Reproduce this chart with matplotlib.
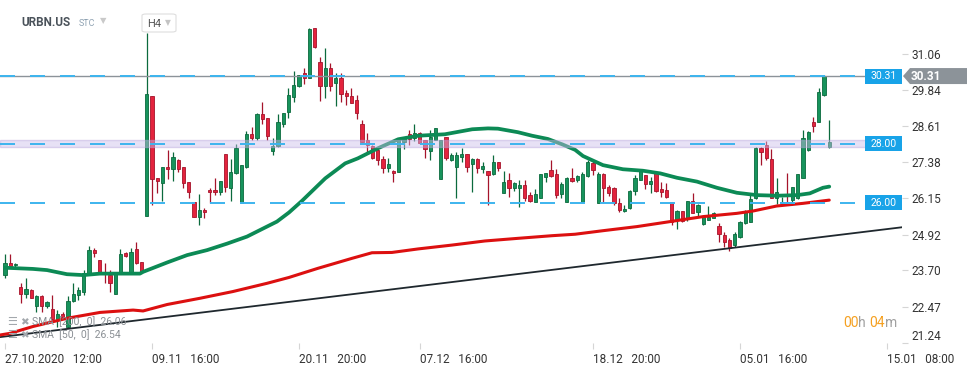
import matplotlib
matplotlib.use("Agg")
import matplotlib.pyplot as plt
import matplotlib.transforms as mtransforms
from matplotlib.patches import Polygon, Rectangle, FancyBboxPatch
import numpy as np

plt.rcParams['font.family'] = ['Roboto', 'DejaVu Sans']
plt.rcParams['lines.scale_dashes'] = False

# ---------------- data (H4 candles, URBN.US) ----------------
opens = [23.54, 23.94, 23.88, 23.12, 22.88, 23.02, 22.49, 22.83, 22.50, 22.37,
         22.05, 22.20, 21.79, 22.66, 22.86, 22.98, 23.57, 24.38, 24.04, 23.63,
         23.54, 22.88, 23.60, 24.29, 23.60, 24.43, 24.00, 25.56, 29.63, 26.85,
         26.66, 27.23, 27.14, 27.45, 27.23, 26.70, 26.01, 25.53, 25.75, 26.43,
         26.43, 26.38, 27.65, 26.51, 27.02, 25.98, 27.23, 28.33, 28.21, 29.01,
         28.87, 27.76, 27.94, 28.67, 29.08, 29.61, 29.97, 30.40, 30.25, 31.93,
         30.78, 29.98, 30.57, 30.09, 30.23, 29.74, 29.63, 29.48, 28.67, 28.13,
         27.94, 27.80, 27.49, 27.19, 27.08, 27.03, 28.06, 28.33, 28.21, 28.36,
         28.13, 27.77, 28.13, 26.80, 28.25, 27.45, 27.23, 27.57, 27.65, 27.31,
         27.49, 27.15, 27.08, 26.97, 27.38, 26.32, 26.77, 26.49, 26.49, 26.60,
         26.26, 26.01, 26.17, 26.89, 27.10, 26.97, 26.29, 26.01, 26.83, 26.77,
         26.01, 26.92, 27.36, 25.98, 26.97, 26.55, 26.51, 25.98, 25.72, 25.81,
         26.40, 26.77, 26.94, 26.64, 27.00, 26.47, 26.43, 26.01, 25.41, 25.72,
         25.44, 26.06, 25.67, 25.27, 25.41, 25.49, 25.21, 24.90, 24.73, 24.56,
         24.85, 25.30, 25.33, 26.15, 27.87, 27.97, 27.49, 26.15, 25.98, 26.04,
         26.09, 26.15, 26.85, 27.80, 28.76, 28.76, 29.67, 27.91]
highs = [24.25, 24.25, 23.96, 23.26, 23.43, 23.05, 22.86, 22.86, 22.66, 22.86,
         22.35, 22.30, 22.83, 23.26, 23.15, 23.71, 24.53, 24.45, 24.04, 23.94,
         23.71, 23.60, 24.43, 24.34, 24.45, 24.67, 24.00, 31.76, 29.63, 26.85,
         27.23, 27.80, 27.74, 27.49, 27.23, 26.70, 26.01, 26.29, 25.83, 26.49,
         26.85, 26.74, 27.65, 27.49, 27.99, 27.28, 28.44, 28.59, 29.04, 29.42,
         28.89, 28.19, 29.01, 29.04, 29.91, 30.48, 30.35, 30.59, 31.93, 31.93,
         30.95, 31.28, 30.74, 30.40, 30.40, 29.84, 29.89, 29.67, 28.81, 28.36,
         27.97, 27.83, 27.60, 27.53, 27.11, 28.17, 28.25, 28.47, 28.67, 28.40,
         28.13, 28.47, 28.55, 28.13, 28.25, 27.68, 27.74, 27.85, 27.65, 27.53,
         27.53, 27.40, 27.08, 27.62, 27.40, 27.08, 27.00, 26.72, 26.77, 26.77,
         26.35, 26.47, 26.97, 27.00, 27.45, 27.15, 26.70, 26.86, 27.17, 26.94,
         27.06, 27.45, 27.42, 27.06, 27.00, 26.60, 26.55, 26.17, 25.92, 26.43,
         26.94, 27.10, 26.94, 26.89, 27.03, 26.72, 26.66, 26.01, 25.75, 25.72,
         26.06, 26.32, 25.95, 25.53, 25.90, 25.67, 25.30, 24.99, 24.81, 25.02,
         25.38, 25.75, 26.32, 27.91, 27.91, 28.10, 27.83, 26.83, 26.21, 27.00,
         26.55, 26.97, 28.47, 28.44, 28.91, 29.89, 30.35, 28.81]
lows = [23.43, 23.77, 23.75, 22.60, 22.77, 22.75, 22.30, 22.30, 22.41, 22.01,
        21.79, 22.07, 21.73, 22.64, 22.69, 22.86, 23.54, 24.17, 23.57, 23.26,
        22.98, 22.88, 23.57, 24.17, 23.60, 23.91, 23.60, 25.56, 25.92, 26.32,
        26.06, 26.81, 26.75, 27.06, 26.49, 26.15, 25.53, 25.24, 25.49, 26.00,
        26.26, 26.26, 26.38, 26.06, 26.97, 25.98, 27.19, 28.13, 28.13, 28.67,
        28.13, 27.62, 27.91, 28.59, 28.89, 29.44, 29.95, 30.03, 30.25, 31.25,
        29.46, 29.57, 29.80, 29.30, 29.44, 29.32, 29.38, 28.84, 28.06, 27.74,
        27.49, 27.28, 27.02, 27.03, 26.70, 27.03, 27.82, 27.97, 28.10, 27.99,
        27.53, 27.45, 28.13, 26.80, 27.45, 27.42, 26.17, 27.40, 27.06, 26.38,
        27.02, 27.00, 25.92, 26.94, 27.09, 26.32, 26.21, 26.41, 25.87, 26.07,
        26.04, 26.01, 26.17, 26.70, 26.89, 26.17, 26.17, 26.01, 26.72, 26.72,
        25.98, 26.89, 26.94, 25.98, 26.04, 26.24, 25.92, 25.70, 25.70, 25.79,
        26.26, 26.77, 26.47, 26.32, 26.38, 26.21, 26.17, 25.24, 25.11, 25.36,
        25.38, 25.64, 25.53, 25.24, 25.41, 25.47, 24.68, 24.51, 24.37, 24.51,
        24.79, 25.27, 25.33, 26.13, 27.28, 27.45, 26.15, 25.95, 25.92, 25.92,
        25.92, 26.13, 26.83, 27.76, 28.42, 28.74, 29.64, 27.87]
closes = [23.94, 23.86, 23.93, 22.88, 23.07, 22.77, 22.83, 22.49, 22.64, 22.05,
          22.20, 22.13, 22.66, 22.88, 23.03, 23.60, 24.38, 24.30, 23.60, 23.57,
          23.26, 23.60, 24.25, 24.20, 24.31, 23.96, 23.63, 29.70, 26.80, 26.75,
          27.23, 27.15, 27.56, 27.15, 26.66, 26.38, 25.53, 25.75, 25.67, 26.35,
          26.35, 26.74, 26.53, 27.06, 27.87, 27.28, 28.33, 28.21, 29.01, 28.84,
          28.28, 27.94, 28.74, 29.04, 29.67, 30.00, 30.35, 30.25, 31.91, 31.31,
          29.98, 30.57, 29.98, 30.23, 29.69, 29.64, 29.40, 29.04, 28.06, 27.97,
          27.53, 27.45, 27.19, 27.31, 27.00, 28.17, 28.19, 28.17, 28.36, 28.02,
          27.83, 28.25, 28.55, 28.13, 27.51, 27.62, 27.62, 27.66, 27.23, 27.49,
          27.19, 27.26, 26.94, 27.38, 27.17, 26.70, 26.49, 26.66, 26.60, 26.17,
          26.06, 26.29, 26.97, 27.00, 26.92, 26.26, 26.63, 26.83, 26.75, 26.91,
          26.97, 27.40, 27.11, 26.97, 26.51, 26.32, 25.98, 25.75, 25.79, 26.41,
          26.83, 27.08, 26.63, 26.74, 26.40, 26.38, 26.21, 25.36, 25.72, 25.38,
          26.06, 25.66, 25.92, 25.53, 25.53, 25.64, 24.93, 24.68, 24.47, 24.93,
          25.33, 25.67, 26.13, 27.87, 27.72, 27.53, 26.15, 26.38, 26.04, 25.92,
          26.55, 26.97, 28.19, 28.42, 28.62, 29.76, 30.32, 28.06]

# SMA readings (candle index, price)
sma50_x = [0, 5.3, 8, 11.8, 14.9, 18.1, 25.7, 26.3, 30.9, 34.7, 38.5, 42.3, 46.1,
           49.9, 51.8, 54.1, 56.6, 61, 64.8, 67.2, 71, 74.9, 78.7, 83.8, 89, 92,
           93.9, 97.7, 100.4, 103.4, 106.1, 108.6, 110.1, 113.9, 117.7, 121.5,
           124.8, 128, 131.8, 135.6, 139.4, 143.2, 147, 150.9, 153.3, 155.8, 157]
sma50_y = [23.79, 23.75, 23.71, 23.57, 23.54, 23.59, 23.59, 23.65, 23.97, 24.22,
           24.39, 24.61, 24.85, 25.19, 25.36, 25.67, 26.07, 26.83, 27.34, 27.51,
           27.85, 28.16, 28.28, 28.33, 28.50, 28.53, 28.52, 28.40, 28.28, 28.17,
           27.99, 27.80, 27.59, 27.28, 27.14, 27.09, 27.00, 26.85, 26.72, 26.51,
           26.34, 26.26, 26.24, 26.26, 26.32, 26.51, 26.55]
sma200_x = [-1, 1, 5.3, 11.8, 18.1, 24.4, 26.3, 30.9, 37.1, 43.4, 49.9, 54.1,
            59.6, 66.1, 69.9, 73.7, 78.7, 85.1, 91.4, 97.7, 104.2, 108.6, 113.9,
            120.4, 126.7, 133, 139.4, 142.5, 147, 152, 157]
sma200_y = [21.50, 21.56, 21.79, 22.07, 22.27, 22.35, 22.32, 22.54, 22.75, 22.98,
            23.26, 23.46, 23.77, 24.11, 24.30, 24.31, 24.43, 24.56, 24.70, 24.79,
            24.88, 24.93, 25.05, 25.19, 25.36, 25.53, 25.64, 25.72, 25.89, 25.98,
            26.09]
trend_x = [-1, 171]
trend_y = [21.43, 25.17]

levels = [30.31, 28.00, 26.00]
zone = (27.90, 28.135)
last_price = 30.31
yticks = [31.06, 29.84, 28.61, 27.38, 26.15, 24.92, 23.70, 22.47, 21.24]
xtick_pos = [0, 28, 56, 79, 112, 140, 168]
xtick_labels = ["27.10.2020   12:00", "09.11   16:00", "20.11   20:00", "07.12   16:00",
                "18.12   20:00", "05.01   16:00", "15.01   08:00"]

# ---------------- figure ----------------
W, H = 970, 368
fig = plt.figure(figsize=(W / 100, H / 100), dpi=100)
fig.patch.set_facecolor('white')
ax = fig.add_axes([0, 1 - 343 / H, 902 / W, 343 / H])
ax.set_xlim(-0.952, 170.86)
ax.set_ylim(21.23, 32.897)
for s in ax.spines.values():
    s.set_visible(False)

o = np.array(opens); h = np.array(highs); l = np.array(lows); c = np.array(closes)
x = np.arange(len(o))
up = c >= o
fill = np.where(up, '#17935c', '#e3233d')
edge = np.where(up, '#0b6a3d', '#a5142b')
ax.vlines(x, l, h, colors=edge, lw=0.9, zorder=2)
ax.bar(x, np.maximum(np.abs(c - o), 0.04), bottom=np.minimum(o, c), width=0.62,
       color=fill, edgecolor=edge, lw=0.6, zorder=3)

# trend line & SMAs
ax.plot(trend_x, trend_y, color='#1f282e', lw=1.3, zorder=4, solid_capstyle='butt')
ax.plot(sma200_x, sma200_y, color='#dc1010', lw=2.2, zorder=5, solid_capstyle='round')
ax.plot(sma50_x, sma50_y, color='#0c8a55', lw=2.7, zorder=6, solid_capstyle='round')

# zone and levels
ax.axhspan(zone[0], zone[1], facecolor='#cbbdea', alpha=0.45, edgecolor='#b8a6dc', lw=1, zorder=7)
ax.axhline(last_price, color='#8c9399', lw=1, zorder=7)
for lv in levels:
    ax.axhline(lv, color='#3db4ee', lw=1.4, dashes=(10.8, 10.8), zorder=8)

# level boxes
ppu = 343 / (32.897 - 21.23)
bh = 15 / ppu
blend = mtransforms.blended_transform_factory(ax.transAxes, ax.transData)
for lv in levels:
    ax.add_patch(Rectangle((865 / 902, lv - bh / 2), 37 / 902, bh, transform=blend,
                           facecolor='#18a3e8', edgecolor='none', zorder=9, clip_on=False))
    ax.text(883.5 / 902, lv, f"{lv:.2f}", transform=blend, color='white', fontsize=7.5,
            ha='center', va='center', zorder=10)

# y axis on right
ax.yaxis.tick_right()
ax.set_yticks(yticks)
ax.set_yticklabels([f"{v:.2f}" for v in yticks])
ax.tick_params(axis='y', length=4, width=0.8, color='#d5d5d5', pad=3, labelsize=8.5,
               labelcolor='#333333')
ax.get_yticklabels()[-1].set_va('bottom')
ax.set_xticks(xtick_pos)
ax.set_xticklabels(xtick_labels)
ax.tick_params(axis='x', length=4, width=0.8, color='#d5d5d5', pad=3, labelsize=8.5,
               labelcolor='#333333')
for t in ax.get_xticklabels():
    t.set_ha('left')
    t.set_x(0)

# last price tag
fig.canvas.draw()
ypx = ax.transData.transform((0, last_price))[1]
tag = [(903, ypx), (910, ypx + 8), (967, ypx + 8), (967, ypx - 8), (910, ypx - 8)]
fig.patches.append(Polygon([(px / W, py / H) for px, py in tag], closed=True,
                           transform=fig.transFigure, facecolor='#8c9399', edgecolor='none'))
fig.text(911 / W, ypx / H, f"{last_price:.2f}", color='white', fontsize=8.5, fontweight='bold',
         ha='left', va='center')

# header
fig.text(21 / W, 1 - 23 / H, "URBN.US", fontsize=8.5, fontweight='bold', color='#4a525a',
         ha='left', va='center')
fig.text(79 / W, 1 - 24 / H, "STC", fontsize=6.5, color='#8fa2b2', ha='left', va='center')
fig.text(100 / W, 1 - 21 / H, "▼", fontsize=6, color='#c9c9c9', ha='left', va='center',
         family='DejaVu Sans')
fig.patches.append(FancyBboxPatch((142 / W, 1 - 32 / H), 34 / W, 18 / H,
                                  boxstyle='round,pad=0,rounding_size=0.004',
                                  transform=fig.transFigure, facecolor='white',
                                  edgecolor='#dedede', lw=0.8))
fig.text(147 / W, 1 - 24 / H, "H4", fontsize=8, color='#555555', ha='left', va='center')
fig.text(165 / W, 1 - 23 / H, "▼", fontsize=5.5, color='#c4c4c4', ha='left', va='center',
         family='DejaVu Sans')

# legend
for yy, txt in [(322, "SMA  [200,  0]  26.06"), (335, "SMA  [50,  0]  26.54")]:
    fig.text(7 / W, 1 - yy / H, "☰", fontsize=8, color='#a3a8ad', ha='left', va='center',
             family='DejaVu Sans')
    fig.text(20 / W, 1 - yy / H, "✖", fontsize=7.5, color='#a3a8ad', ha='left', va='center',
             family='DejaVu Sans')
    fig.text(32 / W, 1 - yy / H, txt, fontsize=7.5, color='#8a8f94', ha='left', va='center')

# timer
orange, grey = '#f5a020', '#a0a0a0'
xx = 843
for part, col in [("00", orange), ("h ", grey), ("04", orange), ("m", grey)]:
    t = fig.text(xx / W, 1 - 323 / H, part, fontsize=10, color=col, ha='left', va='center')
    fig.canvas.draw()
    bb = t.get_window_extent()
    xx += bb.width

fig.savefig("out.png", dpi=100, facecolor='white')
